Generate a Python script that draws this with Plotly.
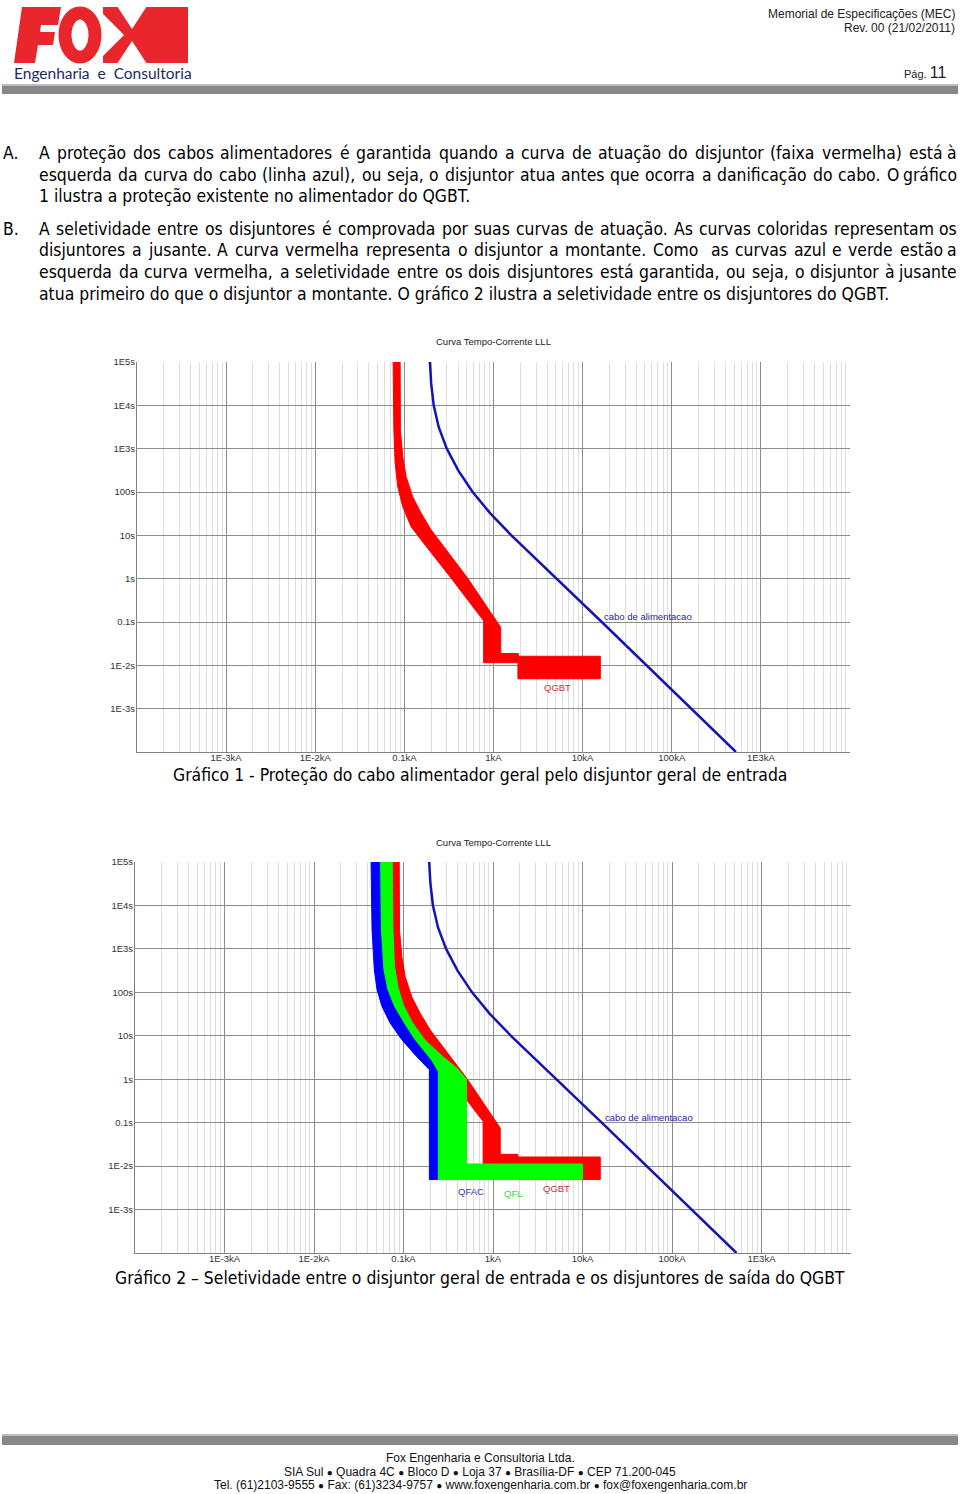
import math
import plotly.graph_objects as go

W, H = 960, 1494

# ---------------- data ----------------
X_TICK_VALS = [1e-4, 1e-3, 1e-2, 1e-1, 1, 10, 100, 1000, 1e4]
X_TICK_TEXT = ["", "1E-3kA", "1E-2kA", "0.1kA", "1kA", "10kA", "100kA", "1E3kA", ""]
Y_TICK_VALS = [1e-4, 1e-3, 1e-2, 0.1, 1, 10, 100, 1e3, 1e4, 1e5]
Y_TICK_TEXT = ["", "1E-3s", "1E-2s", "0.1s", "1s", "10s", "100s", "1E3s", "1E4s", "1E5s"]

# QGBT (red band) outline: current [kA], time [s]
QGBT_I = [0.0895, 0.0902, 0.0959, 0.1045, 0.124, 0.1535, 0.199, 0.277, 0.509, 1.205,
          1.205, 1.90, 1.90, 15.8, 15.8, 1.88, 1.88, 0.775, 0.775, 0.332, 0.214,
          0.1535, 0.119, 0.0959, 0.0843, 0.0787, 0.0762, 0.0748]
QGBT_T = [1e5, 2750, 660, 229, 77.6, 33.1, 13.5, 5.5, 1.05, 0.0752,
          0.0187, 0.0187, 0.0162, 0.0162, 0.0049, 0.0049, 0.0115, 0.0115, 0.107, 1.05, 3.24,
          7.94, 15.8, 45.7, 132, 479, 2750, 1e5]

# QFL (green band) outline
QFL_I = [0.0748, 0.0762, 0.0794, 0.0871, 0.100, 0.126, 0.174, 0.282, 0.398, 0.506,
         0.506, 10.0, 10.0, 0.2388, 0.2388, 0.1995, 0.1318, 0.100, 0.0774, 0.0653,
         0.0589, 0.0551, 0.0541]
QFL_T = [1e5, 2750, 398, 126, 50.1, 19.95, 7.94, 3.16, 1.78, 1.0,
         0.0112, 0.0112, 0.0049, 0.0049, 1.51, 2.82, 8.13, 19.5, 47.9, 115,
         331, 2818, 1e5]

# QFAC (blue band) outline
QFAC_I = [0.0434, 0.0445, 0.0472, 0.0506, 0.0574, 0.0711, 0.0957, 0.1406, 0.1945, 0.1945,
          0.2388, 0.2388, 0.1995, 0.1318, 0.100, 0.0774, 0.0653, 0.0589, 0.0551, 0.0541]
QFAC_T = [1e5, 2818, 331, 115, 47.9, 19.5, 8.13, 3.31, 1.66, 0.0049,
          0.0049, 1.51, 2.82, 8.13, 19.5, 47.9, 115, 331, 2818, 1e5]

# cable damage curve (cabo de alimentacao)
CABO_I = [0.1934, 0.2000, 0.2133, 0.2424, 0.2992, 0.4019, 0.5834, 0.9260, 1.588, 2.865, 5.170, 16.41, 525.2]
CABO_T = [1e5, 31623, 1e4, 3162, 1000, 316.2, 100, 31.62, 10, 3.162, 1, 0.1, 1e-4]

# curve labels: text, current kA, time s, colour, anchor
LABELS_1 = [("cabo de alimentacao", 16.6, 0.132, "#2424a0", "left"),
            ("QGBT", 5.17, 0.00304, "#cc3030", "center")]
LABELS_2 = [("cabo de alimentacao", 16.9, 0.132, "#2424a0", "left"),
            ("QFAC", 0.569, 0.00263, "#3333aa", "center"),
            ("QFL", 1.67, 0.00236, "#33dd33", "center"),
            ("QGBT", 5.17, 0.0031, "#cc3030", "center")]

TEXT_A = ["A proteção dos cabos alimentadores é garantida quando a curva de atuação do disjuntor (faixa vermelha) está à",
          "esquerda da curva do cabo (linha azul), ou seja, o disjuntor atua antes que ocorra a danificação do cabo. O gráfico",
          "1 ilustra a proteção existente no alimentador do QGBT."]
TEXT_B = ["A seletividade entre os disjuntores é comprovada por suas curvas de atuação. As curvas coloridas representam os",
          "disjuntores a jusante. A curva vermelha representa o disjuntor a montante. Como  as curvas azul e verde estão a",
          "esquerda da curva vermelha, a seletividade entre os dois disjuntores está garantida, ou seja, o disjuntor à jusante",
          "atua primeiro do que o disjuntor a montante. O gráfico 2 ilustra a seletividade entre os disjuntores do QGBT."]

CAPTION_1 = "Gráfico 1 - Proteção do cabo alimentador geral pelo disjuntor geral de entrada"
CAPTION_2 = "Gráfico 2 – Seletividade entre o disjuntor geral de entrada e os disjuntores de saída do QGBT"
CHART_TITLE = "Curva Tempo-Corrente LLL"

BUL = "<span style='font-size:10px'>●</span>"
FOOTER = ["Fox Engenharia e Consultoria Ltda.",
          f"SIA Sul {BUL} Quadra 4C {BUL} Bloco D {BUL} Loja 37 {BUL} Brasília-DF {BUL} CEP 71.200-045",
          f"Tel. (61)2103-9555 {BUL} Fax: (61)3234-9757 {BUL} www.foxengenharia.com.br {BUL} fox@foxengenharia.com.br"]


# ---------------- helpers ----------------
def px(x):
    return x / W


def py(y):
    return 1 - y / H


MINOR = [m * 10 ** e for e in range(-4, 4) for m in range(2, 10)]
TICKFONT = dict(family="Liberation Sans, Arial, sans-serif", size=9.5, color="#333333")
BODY_FONT = "DejaVu Sans Condensed, Noto Sans, sans-serif"
BODY_SIZE = 17.4
CAP_FONT = "DejaVu Sans Condensed, Noto Sans, sans-serif"
HDR_FONT = "Liberation Sans, Arial, sans-serif"

# approximate advance widths (per 1000 em) of DejaVu Sans, used to justify text lines
CW = dict(a=613, b=635, c=550, d=635, e=615, f=352, g=635, h=634, i=278, j=278, k=579, l=278,
          m=974, n=634, o=612, p=635, q=635, r=411, s=521, t=392, u=634, v=592, w=818, x=592,
          y=592, z=525, A=684, B=686, C=698, D=770, E=632, G=775, O=787, Q=787, T=611)
CW.update({" ": 318, ".": 318, ",": 318, "(": 390, ")": 390})
ACC = {"ç": "c", "ã": "a", "á": "a", "à": "a", "â": "a", "é": "e", "ê": "e", "í": "i",
       "ó": "o", "õ": "o", "ô": "o", "ú": "u"}
COND = 0.902  # condensed face ratio


def text_width(s, size):
    u = sum(CW.get(ACC.get(ch, ch), 636) for ch in s)
    return u * COND * size / 1000.0


fig = go.Figure()


def add_band(I, T, color, ax):
    fig.add_trace(go.Scatter(x=I, y=T, mode="lines", fill="toself", fillcolor=color,
                             line=dict(color=color, width=1), hoverinfo="skip",
                             xaxis=ax[0], yaxis=ax[1]))


def add_cable(ax):
    fig.add_trace(go.Scatter(x=CABO_I, y=CABO_T, mode="lines",
                             line=dict(color="#1414b4", width=2.5),
                             hoverinfo="skip", xaxis=ax[0], yaxis=ax[1]))


# chart 1
add_band(QGBT_I, QGBT_T, "#ff0000", ("x", "y"))
add_cable(("x", "y"))
# chart 2
add_band(QGBT_I, QGBT_T, "#ff0000", ("x2", "y2"))
add_band(QFL_I, QFL_T, "#00ff00", ("x2", "y2"))
add_band(QFAC_I, QFAC_T, "#0000ff", ("x2", "y2"))
add_cable(("x2", "y2"))


def xcfg(domain, anchor):
    return dict(domain=domain, anchor=anchor, type="log", range=[-4, 4],
                tickmode="array", tickvals=X_TICK_VALS, ticktext=X_TICK_TEXT,
                showgrid=True, gridcolor="#8c8c8c", gridwidth=1, ticks="",
                minor=dict(tickmode="array", tickvals=MINOR, showgrid=True,
                           gridcolor="#dedede", gridwidth=1, ticks=""),
                showline=True, linecolor="#808080", linewidth=1,
                ticklabelstandoff=-3,
                tickfont=TICKFONT, fixedrange=True, automargin=False)


def ycfg(domain, anchor):
    return dict(domain=domain, anchor=anchor, type="log", range=[-4, 5],
                tickmode="array", tickvals=Y_TICK_VALS, ticktext=Y_TICK_TEXT,
                showgrid=True, gridcolor="#8c8c8c", gridwidth=1, ticks="",
                showline=True, linecolor="#808080", linewidth=1,
                ticklabelstandoff=-1,
                tickfont=TICKFONT, fixedrange=True, automargin=False)


fig.update_layout(
    width=W, height=H, margin=dict(l=0, r=0, t=0, b=0),
    paper_bgcolor="white", plot_bgcolor="white", showlegend=False,
    xaxis=xcfg([px(137), px(850)], "y"),
    yaxis=ycfg([py(752), py(362)], "x"),
    xaxis2=xcfg([px(135), px(851)], "y2"),
    yaxis2=ycfg([py(1253), py(862)], "x2"),
)

ann = []


def text(x, y, s, size, color="#000000", family=BODY_FONT, xanchor="left", yanchor="middle"):
    ann.append(dict(x=px(x), y=py(y), xref="paper", yref="paper", text=s, showarrow=False,
                    xanchor=xanchor, yanchor=yanchor, borderpad=0,
                    font=dict(family=family, size=size, color=color)))


def justified(line, y, x0=38, x1=958):
    words = line.split(" ")
    widths = [text_width(w, BODY_SIZE) for w in words]
    gap = (x1 - x0 - sum(widths)) / (len(words) - 1)
    x = x0
    for i, (w, wd) in enumerate(zip(words, widths)):
        if w:
            if i == len(words) - 1:
                text(x1, y, w, BODY_SIZE, xanchor="right")
            else:
                text(x, y, w, BODY_SIZE)
        x += wd + gap


def paragraph(lines, y0):
    for i, s in enumerate(lines):
        y = y0 + i * 21.5
        if i < len(lines) - 1:
            justified(s, y)
        else:
            text(38, y, s, BODY_SIZE)


# header
text(956, 14, "Memorial de Especificações (MEC)", 12, "#222222", HDR_FONT, "right")
text(956, 28, "Rev. 00 (21/02/2011)", 12, "#222222", HDR_FONT, "right")
text(947, 72, "Pág. <span style='font-size:16px'>11</span>", 11, "#222222", HDR_FONT, "right")
text(103, 73, "Engenharia  e  Consultoria", 15.5, "#1d2b63", "Lato, Inter, sans-serif", "center")

# body
text(2, 153, "A.", BODY_SIZE)
paragraph(TEXT_A, 153)
text(2, 229, "B.", BODY_SIZE)
paragraph(TEXT_B, 229)

# chart titles & captions
text(493, 342, CHART_TITLE, 9.5, "#222222", HDR_FONT, "center")
text(493, 842, CHART_TITLE, 9.5, "#222222", HDR_FONT, "center")
text(480, 775, CAPTION_1, 17.4, "#000000", CAP_FONT, "center")
text(480, 1278, CAPTION_2, 17.4, "#000000", CAP_FONT, "center")

# footer
for i, s in enumerate(FOOTER):
    text(480, 1458 + i * 13.7, s, 12, "#111111", HDR_FONT, "center")

# curve labels (data coordinates; annotations on log axes take log10 positions)
for lab, axes in ((LABELS_1, ("x", "y")), (LABELS_2, ("x2", "y2"))):
    for s, I, T, c, anc in lab:
        ann.append(dict(x=math.log10(I), y=math.log10(T), xref=axes[0], yref=axes[1], text=s,
                        showarrow=False, xanchor=anc, yanchor="middle",
                        font=dict(family=HDR_FONT, size=9.5, color=c)))

fig.update_layout(annotations=ann)

# ---------------- decorative shapes (header/footer bars, logo) ----------------
shapes = []


def rect(x0, y0, x1, y1, color):
    shapes.append(dict(type="rect", xref="paper", yref="paper", x0=px(x0), x1=px(x1),
                       y0=py(y1), y1=py(y0), fillcolor=color, line=dict(width=0), layer="above"))


def poly(points, color):
    d = "M " + " L ".join(f"{px(a):.5f},{py(b):.5f}" for a, b in points) + " Z"
    shapes.append(dict(type="path", xref="paper", yref="paper", path=d, fillcolor=color,
                       line=dict(width=0), layer="above"))


rect(2, 84, 958, 86, "#bdbdbd")
rect(2, 86, 958, 94, "#878787")
rect(2, 1434, 958, 1436, "#bdbdbd")
rect(2, 1436, 958, 1445, "#878787")

LOGO_RED = "#e8262b"
# F
poly([(22, 7), (61, 7), (58, 25), (41, 25), (40, 32), (55, 32), (53, 45), (38, 45), (35, 63), (14, 63)], LOGO_RED)
# O
shapes.append(dict(type="circle", xref="paper", yref="paper", x0=px(65), x1=px(95), y0=py(57), y1=py(13),
                   line=dict(color=LOGO_RED, width=13), fillcolor="rgba(0,0,0,0)", layer="above"))
# X
poly([(103, 7), (188, 7), (188, 63), (103, 63)], LOGO_RED)
poly([(117, 6), (147, 6), (132, 29)], "white")
poly([(117, 64), (147, 64), (132, 41)], "white")
poly([(102, 13), (102, 57), (124, 35)], "white")

fig.update_layout(shapes=shapes)

fig.write_html("out.html")
